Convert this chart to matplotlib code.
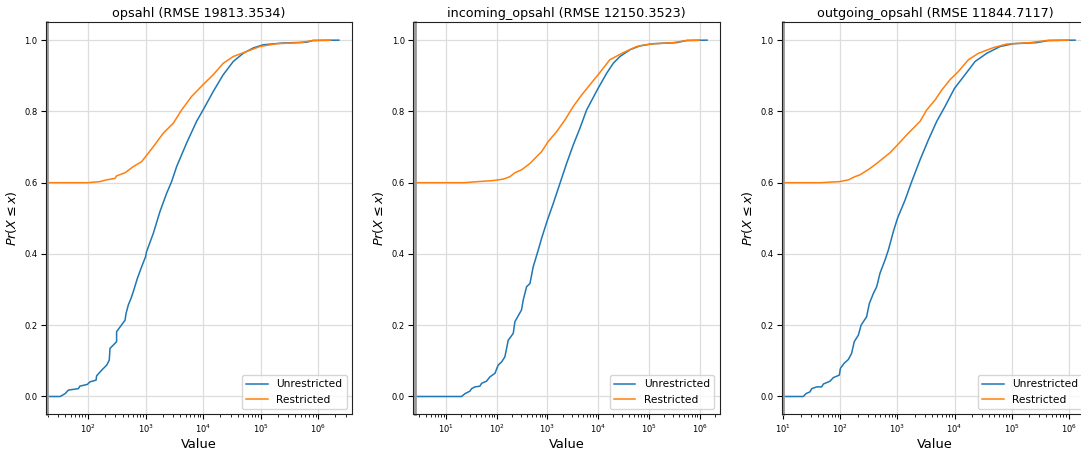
import numpy as np
import matplotlib
matplotlib.use("Agg")
import matplotlib.pyplot as plt

# ECDF curves (value, Pr(X <= x))
titles = ["opsahl (RMSE 19813.3534)",
          "incoming_opsahl (RMSE 12150.3523)",
          "outgoing_opsahl (RMSE 11844.7117)"]

opsahl_unres_x = [1, 32.7, 40, 45.6, 68, 72, 97.5, 108, 138, 141, 173, 211, 234, 241, 294, 314, 314,
                  440, 458, 502, 558, 612, 719, 855, 1000, 1040, 1365, 1780, 2322, 2838, 3467, 5164,
                  7705, 10000, 15025, 22390, 33420, 49800, 74300, 111000, 245000, 626000, 813000, 2.29e6]
opsahl_unres_y = [0, 0, 0.008, 0.018, 0.022, 0.029, 0.034, 0.041, 0.046, 0.058, 0.074, 0.088, 0.102,
                  0.135, 0.149, 0.154, 0.182, 0.214, 0.233, 0.257, 0.275, 0.294, 0.331, 0.364, 0.392,
                  0.406, 0.458, 0.519, 0.570, 0.603, 0.645, 0.711, 0.772, 0.804, 0.856, 0.903, 0.940,
                  0.963, 0.978, 0.987, 0.992, 0.994, 0.999, 1.0]
opsahl_res_x = [1, 100, 161, 211, 294, 314, 440, 612, 855, 1000, 1365, 2033, 3035, 4236, 6320, 10000,
                15025, 22390, 33420, 56900, 97000, 189000, 479000, 813000, 1.64e6]
opsahl_res_y = [0.600, 0.600, 0.603, 0.608, 0.612, 0.619, 0.628, 0.645, 0.659, 0.673, 0.701, 0.739,
                0.767, 0.804, 0.842, 0.875, 0.903, 0.935, 0.954, 0.968, 0.982, 0.990, 0.993, 0.999, 1.0]

incoming_unres_x = [1, 20.4, 23.7, 29.7, 32, 37.3, 46.8, 50.4, 63, 73.6, 92.4, 107, 125, 145, 157, 169,
                    212, 229, 309, 334, 389, 453, 525, 660, 769, 1000, 1306, 1767, 2389, 3235, 4377,
                    5925, 10000, 14700, 19860, 26900, 42400, 66700, 122000, 352000, 555000, 1.4e6]
incoming_unres_y = [0, 0, 0.008, 0.015, 0.022, 0.027, 0.029, 0.037, 0.043, 0.055, 0.065, 0.088, 0.097,
                    0.111, 0.135, 0.158, 0.177, 0.210, 0.243, 0.271, 0.308, 0.317, 0.364, 0.411, 0.444,
                    0.495, 0.542, 0.598, 0.654, 0.706, 0.753, 0.804, 0.865, 0.907, 0.935, 0.954, 0.973,
                    0.984, 0.990, 0.993, 0.999, 1.0]
incoming_res_x = [1, 22, 86, 135, 183, 229, 309, 453, 612, 769, 1030, 1517, 2217, 3235, 4720, 6890,
                  10000, 17000, 31300, 57300, 105000, 302000, 555000, 1.0e6]
incoming_res_y = [0.600, 0.600, 0.606, 0.610, 0.617, 0.628, 0.636, 0.654, 0.673, 0.687, 0.715, 0.743,
                  0.776, 0.814, 0.846, 0.875, 0.903, 0.945, 0.965, 0.982, 0.989, 0.993, 0.999, 1.0]

outgoing_unres_x = [1, 22.4, 24.9, 29.3, 31.4, 38.4, 47, 50.3, 65.8, 75.2, 95.7, 100, 116, 138, 157, 175,
                    206, 230, 288, 321, 378, 432, 494, 605, 692, 847, 1000, 1355, 1774, 2484, 3475,
                    4866, 6810, 10000, 15250, 22840, 36600, 62600, 107000, 276000, 441000, 1.29e6]
outgoing_unres_y = [0, 0, 0.008, 0.013, 0.022, 0.027, 0.027, 0.035, 0.043, 0.053, 0.060, 0.079, 0.093,
                    0.104, 0.121, 0.154, 0.172, 0.200, 0.224, 0.261, 0.289, 0.308, 0.346, 0.383, 0.411,
                    0.463, 0.500, 0.551, 0.603, 0.664, 0.720, 0.772, 0.814, 0.865, 0.903, 0.940, 0.963,
                    0.982, 0.990, 0.993, 0.999, 1.0]
outgoing_res_x = [1, 44, 98, 138, 180, 220, 252, 330, 432, 565, 739, 1000, 1448, 1897, 2484, 3250, 4550,
                  5960, 8340, 11670, 17460, 26100, 47900, 82000, 210000, 411000, 1.0e6]
outgoing_res_y = [0.600, 0.600, 0.603, 0.608, 0.617, 0.622, 0.628, 0.640, 0.654, 0.669, 0.684, 0.706,
                  0.734, 0.753, 0.772, 0.804, 0.832, 0.860, 0.889, 0.912, 0.945, 0.963, 0.979, 0.989,
                  0.993, 0.999, 1.0]

x_limits = [(18.4, 3.89e6), (2.27, 2.48e6), (9.35, 2.18e6)]

curves = [
    (opsahl_unres_x, opsahl_unres_y, opsahl_res_x, opsahl_res_y),
    (incoming_unres_x, incoming_unres_y, incoming_res_x, incoming_res_y),
    (outgoing_unres_x, outgoing_unres_y, outgoing_res_x, outgoing_res_y),
]

fig = plt.figure(figsize=(10.81, 4.5), dpi=100)
lefts = [0.0423, 0.3823, 0.7231]

for i in range(3):
    ax = fig.add_axes([lefts[i], 0.0793, 0.2834, 0.8711])
    ux, uy, rx, ry = curves[i]
    ax.plot(ux, uy, color="tab:blue", lw=1.1, label="Unrestricted")
    ax.plot(rx, ry, color="tab:orange", lw=1.1, label="Restricted")
    ax.set_xscale("log")
    ax.set_xlim(*x_limits[i])
    ax.set_ylim(-0.05, 1.05)
    ax.grid(True, color="#dddddd", lw=0.9)
    ax.set_axisbelow(True)
    # grey band along the left edge, as in the original
    ax.plot([0.005, 0.005], [0, 1], transform=ax.transAxes, color="0.6", lw=2, clip_on=False)
    for s in ax.spines.values():
        s.set_color("#222222")
        s.set_linewidth(0.8)
    ax.tick_params(labelsize=6, length=3.5, width=0.8, pad=2.5)
    ax.tick_params(which="minor", length=2, width=0.6)
    ax.set_title(titles[i], fontsize=9.2, pad=4)
    ax.set_xlabel("Value", fontsize=9.4, labelpad=2)
    ax.set_ylabel(r"$Pr(X \leq x)$", fontsize=9.2)
    ax.legend(loc="lower right", fontsize=7.7)

fig.savefig("out.png", dpi=100)
